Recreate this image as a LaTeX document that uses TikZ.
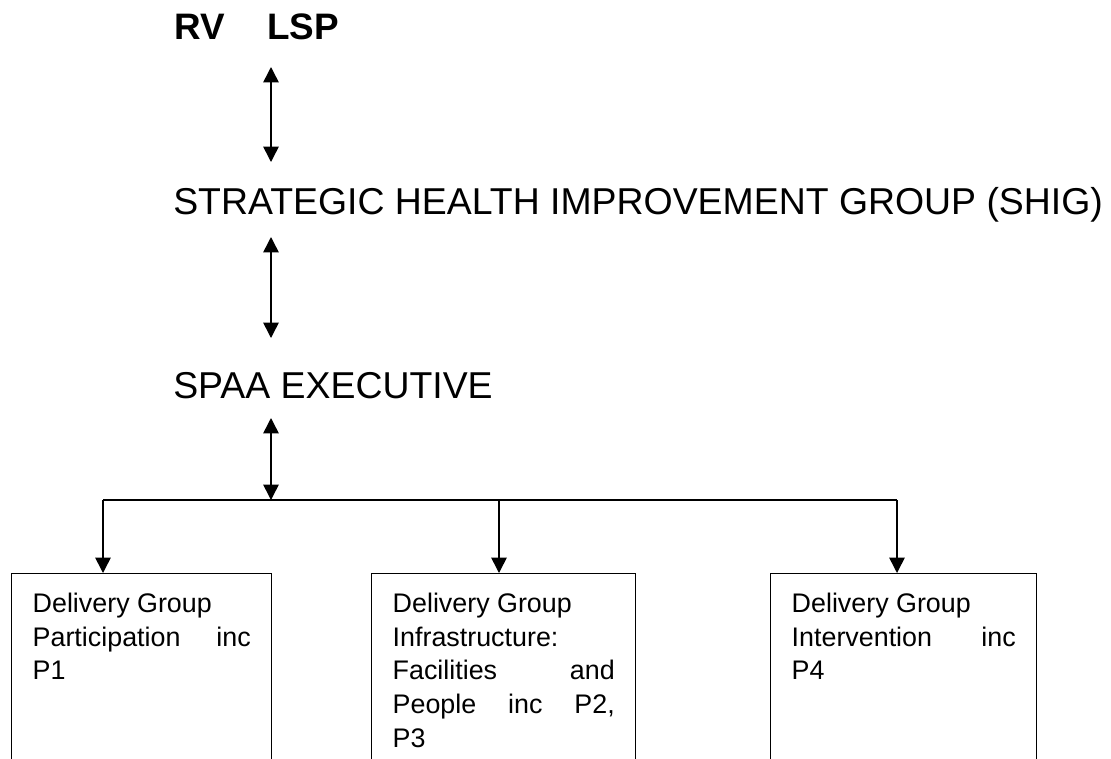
\documentclass[tikz,border=0pt]{standalone}
\usepackage{fontspec}
\setmainfont{Liberation Sans}
\usetikzlibrary{arrows.meta}
\tikzset{head/.tip={Triangle[length=11pt,width=11pt]},
	title/.style={anchor=base west, inner sep=0pt, font=\fontsize{26.6}{32}\selectfont},
	group/.style={draw, line width=1pt, anchor=north west, align=justify,
		inner xsep=0.525cm, inner ysep=0.48cm, text depth=4cm,
		font=\fontsize{19.1}{24}\selectfont},
	wire/.style={line width=1.1pt},
	link/.style={wire, -head},
	both/.style={wire, head-head}}

\begin{document}
\begin{tikzpicture}[x=0.025cm, y=-0.025cm]
		\useasboundingbox (0,0) rectangle (1111,758);
		\clip (0,0) rectangle (1111,758);
		%		heading
		\node[title, font=\fontsize{26.2}{30}\selectfont\bfseries] (rv) at (174,39){RV};
		\node[title, font=\fontsize{26.2}{30}\selectfont\bfseries] (lsp) at (267,39){LSP};
		\node[title] (shig) at (173,214){STRATEGIC HEALTH IMPROVEMENT GROUP (SHIG)};
		\node[title] (spaa) at (173,398){SPAA EXECUTIVE};
		\coordinate (t1) at (271,67);
		\coordinate (b1) at (271,162);
		\coordinate (t2) at (271,237);
		\coordinate (b2) at (271,338);
		\coordinate (t3) at (271,418);
		\coordinate (hub) at (271,500);
		\draw[both] (t1) -- (b1);
		\draw[both] (t2) -- (b2);
		\draw[both] (t3) -- (hub);
		%		delivery groups
		\node[group, text width=5.45cm] (g1) at (11,573){Delivery Group\\ Participation inc\linebreak P1};
		\node[group, text width=5.55cm] (g2) at (371,573){Delivery Group\\ Infrastructure:\\ Facilities and\linebreak People inc P2,\linebreak P3};
		\node[group, text width=5.6cm] (g3) at (770,573){Delivery Group\\ Intervention inc\linebreak P4};
		\coordinate (j1) at (103,500);
		\coordinate (j2) at (499,500);
		\coordinate (j3) at (897,500);
		\draw[wire] (j1) -- (j3);
		\draw[link] (j1) -- (j1 |- g1.north);
		\draw[link] (j2) -- (j2 |- g2.north);
		\draw[link] (j3) -- (j3 |- g3.north);
\end{tikzpicture}
\end{document}
